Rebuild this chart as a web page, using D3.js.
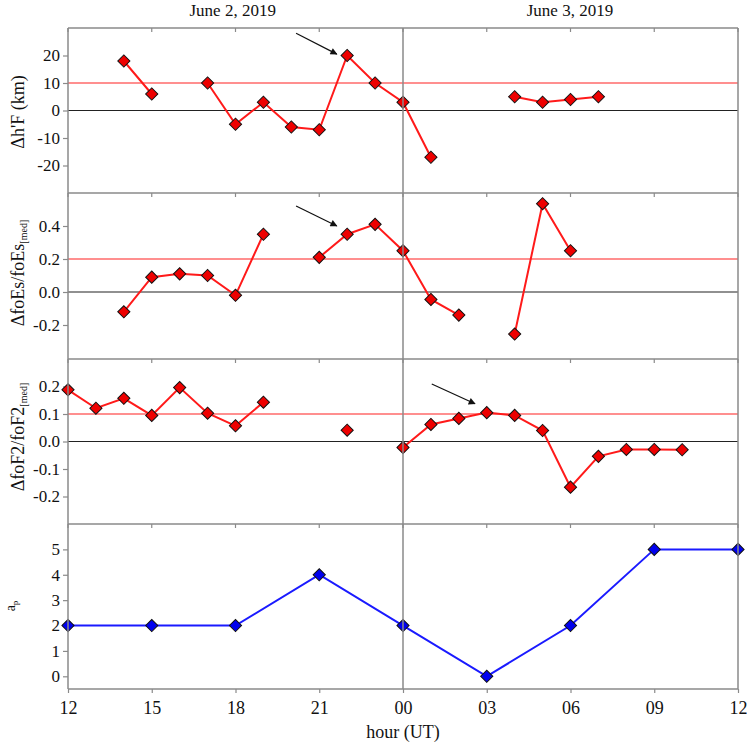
<!DOCTYPE html>
<html><head><meta charset="utf-8">
<script src="https://cdn.jsdelivr.net/npm/d3@7"></script>
<style>body{margin:0;background:#fff}svg{display:block}svg text{font-family:"Liberation Serif","Times New Roman",Times,"DejaVu Serif",serif !important;fill:#111}</style>
</head><body>
<script>
const hours = [12,13,14,15,16,17,18,19,20,21,22,23,24,25,26,27,28,29,30,31,32,33,34,35,36];
const dhF  = [null,null,18,6,null,10,-5,3,-6,-7,20,10,3,-17,null,null,5,3,4,5,null,null,null,null,null];
const foEs = [null,null,-0.12,0.09,0.11,0.10,-0.02,0.35,null,0.21,0.35,0.41,0.25,-0.045,-0.14,null,-0.255,0.535,0.25,null,null,null,null,null,null];
const foF2 = [0.188,0.121,0.157,0.095,0.196,0.103,0.057,0.143,null,null,0.041,null,-0.022,0.062,0.084,0.105,0.095,0.040,-0.166,-0.054,-0.029,-0.029,-0.03,null,null];
const apHours = [12,15,18,21,24,27,30,33,36];
const apVals  = [2,2,2,4,2,0,2,5,5];
const xTicks = [12,15,18,21,24,27,30,33,36];
const dayLabels = ["June 2, 2019","June 3, 2019"];
const dayCenters = [17.9,29.98];

const W=747,H=744, L=68, R=738;
const SERIF='"Liberation Serif","Times New Roman",Times,serif';
const svg=d3.select("body").append("svg").attr("width",W).attr("height",H);
const x=d3.scaleLinear().domain([12,36]).range([L,R]);
const hy=f=>v=>f(v).replace("\u2212","-");

const panels=[
 {top:28,bot:193,dom:[-30,30],ticks:[-20,-10,0,10,20],fmt:hy(d3.format("d")),ref:10,data:dhF,label:"Δh'F (km)",sub:null,cy:112,arrow:[[20.17,28.1],[21.63,20.5]]},
 {top:193,bot:358,dom:[-0.4,0.6],ticks:[-0.2,0,0.2,0.4],fmt:hy(d3.format(".1f")),ref:0.2,data:foEs,label:"ΔfoEs/foEs",sub:"[med]",cy:273,arrow:[[20.17,0.521],[21.63,0.40]]},
 {top:359,bot:524,dom:[-0.3,0.3],ticks:[-0.2,-0.1,0,0.1,0.2],fmt:hy(d3.format(".1f")),ref:0.1,data:foF2,label:"ΔfoF2/foF2",sub:"[med]",cy:437,arrow:[[25.03,0.209],[26.58,0.137]]},
];
const apPanel={top:524,bot:689,dom:[-0.5,6],ticks:[0,1,2,3,4,5],fmt:d3.format("d")};

svg.append("defs").append("marker").attr("id","ah").attr("viewBox","0 0 10 10")
 .attr("refX",9).attr("refY",5).attr("markerWidth",9).attr("markerHeight",7).attr("markerUnits","userSpaceOnUse")
 .attr("orient","auto").append("path").attr("d","M0,0L10,5L0,10Z").attr("fill","#111");

const diamond=d3.symbol(d3.symbolSquare,74);
const gray="#8a8a8a";

function frame(p,y){
  const g=svg.append("g");
  xTicks.forEach(t=>g.append("line").attr("x1",x(t)).attr("x2",x(t)).attr("y1",p.top).attr("y2",p.top+4).attr("stroke",gray).attr("stroke-width",1.2));
  const ax=svg.append("g").attr("transform",`translate(${L},0)`).call(d3.axisLeft(y).tickValues(p.ticks).tickFormat(p.fmt).tickSize(5).tickPadding(3));
  ax.select(".domain").remove();
  ax.selectAll(".tick line").attr("stroke",gray).attr("stroke-width",1.2);
  ax.selectAll(".tick text").attr("font-size",17).style("font-family",SERIF).attr("fill","#111");
}

panels.forEach(p=>{
  const y=d3.scaleLinear().domain(p.dom).range([p.bot,p.top]);
  frame(p,y);
  svg.append("line").attr("x1",L).attr("x2",R).attr("y1",y(0)).attr("y2",y(0)).attr("stroke","#222").attr("stroke-width",1.2);
  svg.append("line").attr("x1",L).attr("x2",R).attr("y1",y(p.ref)).attr("y2",y(p.ref)).attr("stroke","#ff2020").attr("stroke-width",1.1);
  const pts=hours.map((h,i)=>({h,v:p.data[i]}));
  const line=d3.line().defined(d=>d.v!==null).x(d=>x(d.h)).y(d=>y(d.v));
  svg.append("path").attr("d",line(pts)).attr("fill","none").attr("stroke","#ff1a1a").attr("stroke-width",2);
  svg.append("g").selectAll("path").data(pts.filter(d=>d.v!==null)).join("path")
    .attr("d",diamond).attr("transform",d=>`translate(${x(d.h)},${y(d.v)}) rotate(45)`)
    .attr("fill","#ee0000").attr("stroke","#111").attr("stroke-width",1);
  svg.append("line").attr("x1",x(p.arrow[0][0])).attr("y1",y(p.arrow[0][1])).attr("x2",x(p.arrow[1][0])).attr("y2",y(p.arrow[1][1]))
    .attr("stroke","#111").attr("stroke-width",1.2).attr("marker-end","url(#ah)");
  const t=svg.append("text").attr("transform",`translate(24,${p.cy}) rotate(-90)`).attr("text-anchor","middle").attr("font-size",18).style("font-family",SERIF);
  t.append("tspan").text(p.label);
  if(p.sub) t.append("tspan").attr("font-size",10).attr("dy",3).text(p.sub);
});

{
  const p=apPanel;
  const y=d3.scaleLinear().domain(p.dom).range([p.bot,p.top]);
  frame(p,y);
  const pts=apHours.map((h,i)=>({h,v:apVals[i]}));
  const line=d3.line().x(d=>x(d.h)).y(d=>y(d.v));
  svg.append("path").attr("d",line(pts)).attr("fill","none").attr("stroke","#1a1aff").attr("stroke-width",2);
  svg.append("g").selectAll("path").data(pts).join("path")
    .attr("d",diamond).attr("transform",d=>`translate(${x(d.h)},${y(d.v)}) rotate(45)`)
    .attr("fill","#0000ee").attr("stroke","#111").attr("stroke-width",1);
  const t=svg.append("text").attr("transform",`translate(15,606) rotate(-90)`).attr("text-anchor","middle").attr("font-size",14).style("font-family",SERIF);
  t.append("tspan").text("a");
  t.append("tspan").attr("font-size",9).attr("dy",3).text("p");
  const ax=svg.append("g").attr("transform",`translate(0,${p.bot})`).call(d3.axisBottom(x).tickValues(xTicks).tickFormat(h=>d3.format("02d")(h%24)).tickSize(4).tickPadding(8));
  ax.select(".domain").remove();
  ax.selectAll(".tick line").attr("stroke",gray).attr("stroke-width",1.2);
  ax.selectAll(".tick text").attr("font-size",18).style("font-family",SERIF).attr("fill","#111");
}

[28,193,359,524,689].forEach(yy=>svg.append("line").attr("x1",L).attr("x2",R).attr("y1",yy).attr("y2",yy).attr("stroke",gray).attr("stroke-width",1.5));
svg.append("line").attr("x1",L).attr("x2",L).attr("y1",28).attr("y2",689).attr("stroke",gray).attr("stroke-width",1.5);
svg.append("line").attr("x1",R).attr("x2",R).attr("y1",28).attr("y2",689).attr("stroke",gray).attr("stroke-width",1.5);
svg.append("line").attr("x1",x(24)).attr("x2",x(24)).attr("y1",28).attr("y2",689).attr("stroke",gray).attr("stroke-width",1.5);

svg.selectAll(".day").data(dayLabels).join("text").attr("x",(d,i)=>x(dayCenters[i])).attr("y",16)
  .attr("text-anchor","middle").attr("font-size",17).style("font-family",SERIF).text(d=>d);
svg.append("text").attr("x",403).attr("y",738).attr("text-anchor","middle").attr("font-size",18).style("font-family",SERIF).text("hour (UT)");
</script>
</body></html>
